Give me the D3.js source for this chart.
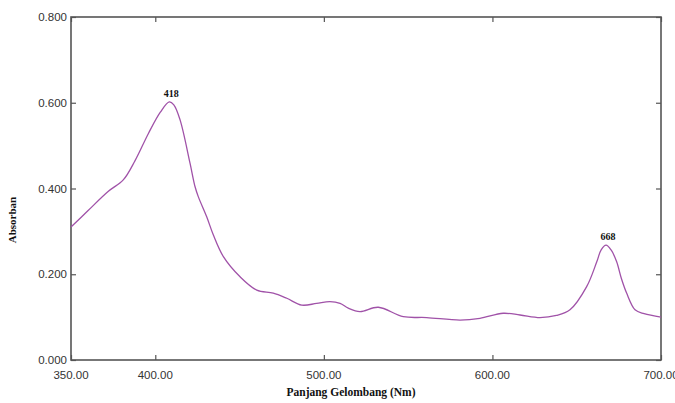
<!DOCTYPE html>
<html lang="en">
<head>
<meta charset="UTF-8">
<title>Absorbance spectrum</title>
<style>
    body{
        margin: 0;
        background-color: #fff;
    }
    #chart svg{
        display: block;
    }
    .tickTxt{
        font-family: "Liberation Sans", Arial, sans-serif;
        font-size: 11.5px;
        fill: #333;
    }
    .title{
        font-family: "Liberation Serif", "Times New Roman", serif;
        font-weight: bold;
        font-size: 11.5px;
        fill: #111;
    }
</style>
</head>
<body>
<div id="chart"></div>
<script src="https://d3js.org/d3.v7.min.js"></script>
<script>

// wavelength (nm) and absorbance
let wavelength = [350, 360, 372, 381, 388, 396, 403, 408.3, 411, 414.7, 420.6, 423.6, 425.5, 430.5, 434.4, 440.4, 450.3, 460.2, 470, 478, 486.9, 495.7, 503.6, 509.6, 514.5, 521.4, 532.3, 547.1, 561, 580.8, 592.6, 606.4, 616.4, 628.2, 638, 646, 655.9, 661.9, 664.5, 667.4, 670.5, 673.7, 676.5, 679.6, 684.6, 690, 700]
let absorban = [0.310, 0.348, 0.393, 0.420, 0.465, 0.529, 0.578, 0.602, 0.595, 0.560, 0.459, 0.404, 0.381, 0.334, 0.292, 0.241, 0.194, 0.163, 0.156, 0.144, 0.128, 0.132, 0.136, 0.132, 0.121, 0.113, 0.123, 0.101, 0.099, 0.093, 0.097, 0.109, 0.105, 0.099, 0.104, 0.117, 0.171, 0.229, 0.257, 0.268, 0.256, 0.229, 0.190, 0.156, 0.117, 0.108, 0.100]

let xTicks = [350, 400, 500, 600, 700]
let yTicks = [0, 0.2, 0.4, 0.6, 0.8]

// peak labels
let peakText = ["418", "668"]
let peakAt = [408.3, 667.4]

let W = 675, H = 403
let margin = {top: 17, right: 14, bottom: 43, left: 71}
let width = W - margin.left - margin.right,
    height = H - margin.top - margin.bottom

let svg = d3.select("#chart")
    .append("svg")
    .attr("width", W)
    .attr("height", H)

let g = svg.append("g")
    .attr("transform", `translate(${margin.left},${margin.top})`)

let xScale = d3.scaleLinear().domain([350, 700]).range([0, width])
let yScale = d3.scaleLinear().domain([0, 0.8]).range([height, 0])

// frame with inward ticks on all four sides
let axisStyle = sel => {
    sel.select(".domain").remove()
    sel.selectAll(".tick line").attr("stroke", "#555").attr("stroke-width", 1.2)
    sel.selectAll("text").remove()
}
g.append("g").attr("transform", `translate(0,${height})`)
    .call(d3.axisBottom(xScale).tickValues(xTicks).tickSize(-5)).call(axisStyle)
g.append("g")
    .call(d3.axisTop(xScale).tickValues(xTicks).tickSize(-5)).call(axisStyle)
g.append("g")
    .call(d3.axisLeft(yScale).tickValues(yTicks).tickSize(-5)).call(axisStyle)
g.append("g").attr("transform", `translate(${width},0)`)
    .call(d3.axisRight(yScale).tickValues(yTicks).tickSize(-5)).call(axisStyle)

g.append("rect")
    .attr("width", width)
    .attr("height", height)
    .attr("fill", "none")
    .attr("stroke", "#555")
    .attr("stroke-width", 1.6)

// tick labels
g.selectAll(".ylab")
    .data(yTicks)
    .join("text")
    .attr("class", "tickTxt")
    .attr("x", -4)
    .attr("y", d => yScale(d))
    .attr("dy", "0.35em")
    .attr("text-anchor", "end")
    .text(d => d.toFixed(3))

g.selectAll(".xlab")
    .data(xTicks)
    .join("text")
    .attr("class", "tickTxt")
    .attr("x", d => xScale(d))
    .attr("y", height + 19)
    .attr("text-anchor", "middle")
    .text(d => d.toFixed(2))

// spectrum line
let data = wavelength.map((d, i) => ({x: d, y: absorban[i]}))
let line = d3.line()
    .x(d => xScale(d.x))
    .y(d => yScale(d.y))
    .curve(d3.curveCatmullRom.alpha(0.5))

g.append("path")
    .datum(data)
    .attr("d", line)
    .attr("fill", "none")
    .attr("stroke", "#a052a8")
    .attr("stroke-width", 1.3)

g.selectAll(".peak")
    .data(peakText)
    .join("text")
    .attr("class", "title")
    .style("font-size", "10px")
    .attr("x", (d, i) => xScale(peakAt[i]) + 2)
    .attr("y", (d, i) => yScale(absorban[wavelength.indexOf(peakAt[i])]) - 5)
    .attr("text-anchor", "middle")
    .text(d => d)

// axis titles
svg.append("text")
    .attr("class", "title")
    .attr("x", 351)
    .attr("y", 396)
    .attr("text-anchor", "middle")
    .text("Panjang Gelombang (Nm)")

svg.append("text")
    .attr("class", "title")
    .style("font-size", "11px")
    .attr("transform", `translate(16,220) rotate(-90)`)
    .attr("text-anchor", "middle")
    .text("Absorban")

</script>
</body>
</html>
